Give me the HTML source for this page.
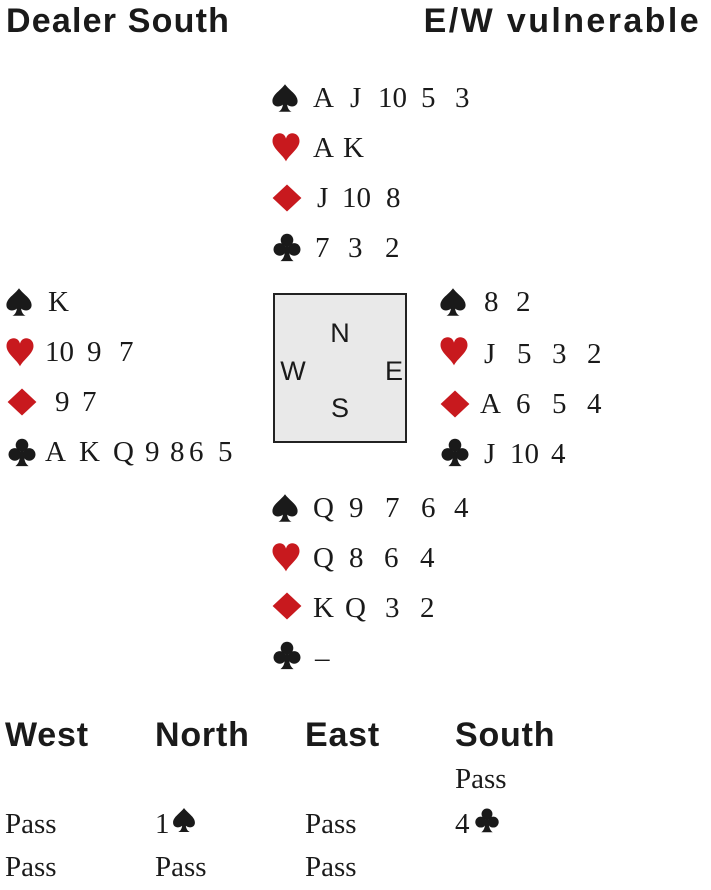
<!DOCTYPE html>
<html><head><meta charset="utf-8"><style>
body{margin:0;width:711px;height:890px;background:#fff;position:relative;overflow:hidden;color:#1a1a1a}
.t{position:absolute;font-family:"Liberation Sans",sans-serif;font-weight:bold;font-size:34px;line-height:34px;white-space:nowrap}
.c{position:absolute;font-family:"Liberation Serif",serif;font-size:29px;line-height:29px;white-space:nowrap}
.box{position:absolute;left:273px;top:293px;width:130px;height:146px;border:2px solid #222;background:#e9e9e9}
.d{position:absolute;font-family:"Liberation Sans",sans-serif;font-size:27px;line-height:27px;width:40px;text-align:center}
.a{position:absolute;font-family:"Liberation Serif",serif;font-size:29px;line-height:29px;white-space:nowrap}
svg.u{position:absolute;width:30px;height:30px}
svg.v{position:absolute;width:26px;height:26px}
</style></head><body>
<svg width="0" height="0" style="position:absolute">
<defs>
<path id="sp" d="M50 4 C36 24 8 38 8 60 C8 78 28 84 43 72 C41 85 36 92 28 96 L72 96 C64 92 59 85 57 72 C72 84 92 78 92 60 C92 38 64 24 50 4Z" fill="#1a1a1a"/>
<path id="he" d="M50 98 C40 76 5 56 5 30 C5 12 18 4 29 4 C41 4 48 13 50 22 C52 13 59 4 71 4 C82 4 95 12 95 30 C95 56 60 76 50 98Z" fill="#c8191e"/>
<path id="di" d="M50 5 L98 50 L50 95 L2 50Z" fill="#c8191e"/>
<g id="cl" fill="#1a1a1a"><circle cx="50" cy="27" r="21"/><circle cx="26" cy="58" r="21"/><circle cx="74" cy="58" r="21"/><path d="M44 45 L56 45 C56 75 60 88 72 97 L28 97 C40 88 44 75 44 45Z"/></g>
</defs></svg>

<div class="t" style="left:6px;top:4px;letter-spacing:1.2px">Dealer South</div>
<div class="t" style="right:10px;top:4px;letter-spacing:2.4px">E/W vulnerable</div>

<!-- North -->
<svg class="u" viewBox="0 0 100 100" style="left:270px;top:83px"><use href="#sp"/></svg>
<svg class="u" viewBox="0 0 100 100" style="left:271px;top:132px"><use href="#he"/></svg>
<svg class="u" viewBox="0 0 100 100" style="left:272px;top:183px"><use href="#di"/></svg>
<svg class="u" viewBox="0 0 100 100" style="left:272px;top:232px"><use href="#cl"/></svg>
<div class="c" style="left:313px;top:84px">A</div><div class="c" style="left:350px;top:84px">J</div><div class="c" style="left:378px;top:84px">10</div><div class="c" style="left:421px;top:84px">5</div><div class="c" style="left:455px;top:84px">3</div>
<div class="c" style="left:313px;top:134px">A</div><div class="c" style="left:343px;top:134px">K</div>
<div class="c" style="left:317px;top:184px">J</div><div class="c" style="left:342px;top:184px">10</div><div class="c" style="left:386px;top:184px">8</div>
<div class="c" style="left:315px;top:234px">7</div><div class="c" style="left:348px;top:234px">3</div><div class="c" style="left:385px;top:234px">2</div>

<!-- West -->
<svg class="u" viewBox="0 0 100 100" style="left:4px;top:287px"><use href="#sp"/></svg>
<svg class="u" viewBox="0 0 100 100" style="left:5px;top:337px"><use href="#he"/></svg>
<svg class="u" viewBox="0 0 100 100" style="left:7px;top:387px"><use href="#di"/></svg>
<svg class="u" viewBox="0 0 100 100" style="left:7px;top:437px"><use href="#cl"/></svg>
<div class="c" style="left:48px;top:288px">K</div>
<div class="c" style="left:45px;top:338px">10</div><div class="c" style="left:87px;top:338px">9</div><div class="c" style="left:119px;top:338px">7</div>
<div class="c" style="left:55px;top:388px">9</div><div class="c" style="left:82px;top:388px">7</div>
<div class="c" style="left:45px;top:438px">A</div><div class="c" style="left:79px;top:438px">K</div><div class="c" style="left:113px;top:438px">Q</div><div class="c" style="left:145px;top:438px">9</div><div class="c" style="left:170px;top:438px">8</div><div class="c" style="left:189px;top:438px">6</div><div class="c" style="left:218px;top:438px">5</div>

<!-- East -->
<svg class="u" viewBox="0 0 100 100" style="left:438px;top:287px"><use href="#sp"/></svg>
<svg class="u" viewBox="0 0 100 100" style="left:439px;top:336px"><use href="#he"/></svg>
<svg class="u" viewBox="0 0 100 100" style="left:440px;top:389px"><use href="#di"/></svg>
<svg class="u" viewBox="0 0 100 100" style="left:440px;top:437px"><use href="#cl"/></svg>
<div class="c" style="left:484px;top:288px">8</div><div class="c" style="left:516px;top:288px">2</div>
<div class="c" style="left:484px;top:340px">J</div><div class="c" style="left:517px;top:340px">5</div><div class="c" style="left:552px;top:340px">3</div><div class="c" style="left:587px;top:340px">2</div>
<div class="c" style="left:480px;top:390px">A</div><div class="c" style="left:516px;top:390px">6</div><div class="c" style="left:552px;top:390px">5</div><div class="c" style="left:587px;top:390px">4</div>
<div class="c" style="left:484px;top:440px">J</div><div class="c" style="left:510px;top:440px">10</div><div class="c" style="left:551px;top:440px">4</div>

<!-- Box -->
<div class="box"></div>
<div class="d" style="left:320px;top:320px">N</div>
<div class="d" style="left:273px;top:358px">W</div>
<div class="d" style="left:374px;top:358px">E</div>
<div class="d" style="left:320px;top:395px">S</div>

<!-- South -->
<svg class="u" viewBox="0 0 100 100" style="left:270px;top:493px"><use href="#sp"/></svg>
<svg class="u" viewBox="0 0 100 100" style="left:271px;top:542px"><use href="#he"/></svg>
<svg class="u" viewBox="0 0 100 100" style="left:272px;top:591px"><use href="#di"/></svg>
<svg class="u" viewBox="0 0 100 100" style="left:272px;top:640px"><use href="#cl"/></svg>
<div class="c" style="left:313px;top:494px">Q</div><div class="c" style="left:349px;top:494px">9</div><div class="c" style="left:385px;top:494px">7</div><div class="c" style="left:421px;top:494px">6</div><div class="c" style="left:454px;top:494px">4</div>
<div class="c" style="left:313px;top:544px">Q</div><div class="c" style="left:349px;top:544px">8</div><div class="c" style="left:384px;top:544px">6</div><div class="c" style="left:420px;top:544px">4</div>
<div class="c" style="left:313px;top:594px">K</div><div class="c" style="left:345px;top:594px">Q</div><div class="c" style="left:385px;top:594px">3</div><div class="c" style="left:420px;top:594px">2</div>
<div class="c" style="left:315px;top:644px">–</div>

<!-- Auction -->
<div class="t" style="left:5px;top:718px;letter-spacing:0.8px">West</div>
<div class="t" style="left:155px;top:718px;letter-spacing:0.8px">North</div>
<div class="t" style="left:305px;top:718px;letter-spacing:0.8px">East</div>
<div class="t" style="left:455px;top:718px;letter-spacing:0.8px">South</div>
<div class="a" style="left:455px;top:765px">Pass</div>
<div class="a" style="left:5px;top:810px">Pass</div>
<div class="a" style="left:155px;top:810px">1</div>
<svg class="v" viewBox="0 0 100 100" style="left:171px;top:807px"><use href="#sp"/></svg>
<div class="a" style="left:305px;top:810px">Pass</div>
<div class="a" style="left:455px;top:810px">4</div>
<svg class="v" viewBox="0 0 100 100" style="left:474px;top:807px"><use href="#cl"/></svg>
<div class="a" style="left:5px;top:853px">Pass</div>
<div class="a" style="left:155px;top:853px">Pass</div>
<div class="a" style="left:305px;top:853px">Pass</div>
</body></html>
